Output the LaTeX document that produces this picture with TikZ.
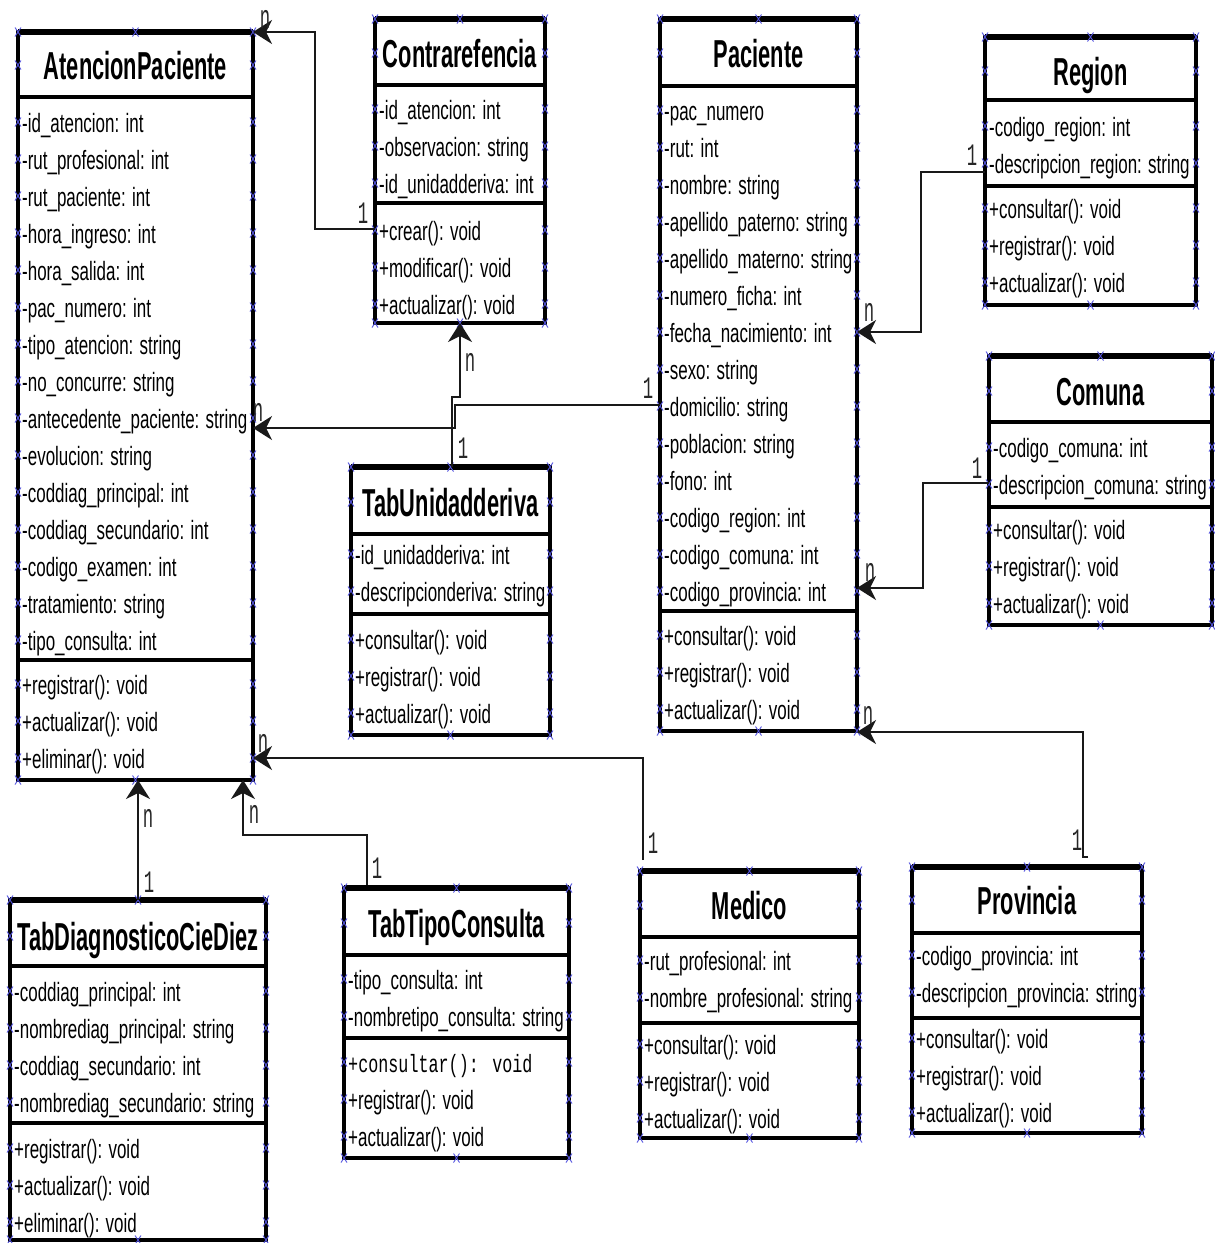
\documentclass[tikz,border=0pt]{standalone}
\usepackage{fontspec}
\setmainfont{Liberation Sans}
\newfontfamily\attrfont[FakeStretch=0.64]{Liberation Sans}
\newfontfamily\titlefont[FakeStretch=0.56]{Liberation Sans}
\newfontfamily\codefont[FakeStretch=0.67]{Liberation Mono}
\newfontfamily\multfont[FakeStretch=0.72]{Liberation Mono}
\usetikzlibrary{arrows.meta,calc}

\definecolor{markblue}{RGB}{85,85,225}

\tikzset{
  classbox/.style={draw, line width=3.5pt, inner sep=0pt, outer sep=0pt, fill=white},
  sepline/.style={line width=4pt},
  topline/.style={line width=5.5pt},
  titletext/.style={anchor=base, inner sep=0pt, font=\titlefont\bfseries\fontsize{39}{39}\selectfont},
  attrtext/.style={anchor=base west, inner sep=0pt, font=\attrfont\fontsize{26.5}{26.5}\selectfont},
  assoc/.style={draw=black!90, line width=2pt, -{Stealth[length=19pt,width=24pt,inset=6pt]}},
  mult/.style={inner sep=0pt, font=\multfont\fontsize{24}{24}\selectfont, text=black!85},
  markpen/.style={draw=markblue, line width=0.9pt},
  xmk/.pic={\draw[markpen] (-3,-4.5) -- (3,4.5) (-3,4.5) -- (3,-4.5);},
}

% frame of a class: name, left, top, right, first separator, second separator, bottom
\newcommand{\umlclass}[7]{%
  \node[classbox, anchor=north west, minimum width={#4-#2}, minimum height={#7-#3}] (#1) at (#2,#3) {};
  \draw[sepline] (#2,#5) -- (#4,#5);
  \draw[sepline] (#2,#6) -- (#4,#6);
  \draw[topline] (#2,#3) -- (#4,#3);
  \foreach \yy in {#3,#7} {
    \pic at (#2,\yy) {xmk};
    \pic at ({(#2+#4)/2},\yy) {xmk};
    \pic at (#4,\yy) {xmk};
  }
}
% class name: name, left, right, baseline, text
\newcommand{\umltitle}[5]{%
  \node[titletext] (#1) at ({(#2+#3)/2},#4) {#5};
  \pic at (#2,{#4-14}) {xmk};
  \pic at (#3,{#4-14}) {xmk};
}
% member rows: prefix, left, right, first baseline, list
\newcommand{\umlrows}[5]{%
  \foreach \txt [count=\i] in {#5} {
    \node[attrtext] (#1\i) at ({#2+4},{#4+37*(\i-1)}) {\txt};
    \pic at (#2,{#4+37*(\i-1)-10}) {xmk};
    \pic at (#3,{#4+37*(\i-1)-10}) {xmk};
  }
}

\begin{document}
\begin{tikzpicture}[x=1pt, y=-1pt]
\useasboundingbox (0,0) rectangle (1215,1243);
\fill[white] (0,0) rectangle (1215,1243);

% AtencionPaciente
\umlclass{ap}{18}{32}{253}{97}{660}{780}
\umltitle{ap-t}{18}{253}{79}{AtencionPaciente}
\umlrows{ap-a}{18}{253}{132}{-id\_atencion: int, -rut\_profesional: int, -rut\_paciente: int, -hora\_ingreso: int, -hora\_salida: int, -pac\_numero: int, -tipo\_atencion: string, -no\_concurre: string, -antecedente\_paciente: string, -evolucion: string, -coddiag\_principal: int, -coddiag\_secundario: int, -codigo\_examen: int, -tratamiento: string, -tipo\_consulta: int}
\umlrows{ap-m}{18}{253}{694}{+registrar(): void, +actualizar(): void, +eliminar(): void}

% Contrarefencia
\umlclass{cr}{375}{19}{545}{85}{203}{323}
\umltitle{cr-t}{375}{545}{67}{Contrarefencia}
\umlrows{cr-a}{375}{545}{119}{-id\_atencion: int, -observacion: string, -id\_unidadderiva: int}
\umlrows{cr-m}{375}{545}{240}{+crear(): void, +modificar(): void, +actualizar(): void}

% Paciente
\umlclass{pac}{660}{19}{857}{86}{611}{731}
\umltitle{pac-t}{660}{857}{67}{Paciente}
\umlrows{pac-a}{660}{857}{120}{-pac\_numero, -rut: int, -nombre: string, -apellido\_paterno: string, -apellido\_materno: string, -numero\_ficha: int, -fecha\_nacimiento: int, -sexo: string, -domicilio: string, -poblacion: string, -fono: int, -codigo\_region: int, -codigo\_comuna: int, -codigo\_provincia: int}
\umlrows{pac-m}{660}{857}{645}{+consultar(): void, +registrar(): void, +actualizar(): void}

% Region
\umlclass{reg}{985}{37}{1196}{100}{186}{305}
\umltitle{reg-t}{985}{1196}{85}{Region}
\umlrows{reg-a}{985}{1196}{136}{-codigo\_region: int, -descripcion\_region: string}
\umlrows{reg-m}{985}{1196}{218}{+consultar(): void, +registrar(): void, +actualizar(): void}

% Comuna
\umlclass{com}{989}{356}{1212}{422}{507}{625}
\umltitle{com-t}{989}{1212}{405}{Comuna}
\umlrows{com-a}{989}{1212}{457}{-codigo\_comuna: int, -descripcion\_comuna: string}
\umlrows{com-m}{989}{1212}{539}{+consultar(): void, +registrar(): void, +actualizar(): void}

% TabUnidadderiva
\umlclass{tud}{351}{467}{550}{534}{614}{735}
\umltitle{tud-t}{351}{550}{516}{TabUnidadderiva}
\umlrows{tud-a}{351}{550}{564}{-id\_unidadderiva: int, -descripcionderiva: string}
\umlrows{tud-m}{351}{550}{649}{+consultar(): void, +registrar(): void, +actualizar(): void}

% TabDiagnosticoCieDiez
\umlclass{tdg}{10}{900}{266}{966}{1123}{1240}
\umltitle{tdg-t}{10}{266}{950}{TabDiagnosticoCieDiez}
\umlrows{tdg-a}{10}{266}{1001}{-coddiag\_principal: int, -nombrediag\_principal: string, -coddiag\_secundario: int, -nombrediag\_secundario: string}
\umlrows{tdg-m}{10}{266}{1158}{+registrar(): void, +actualizar(): void, +eliminar(): void}

% TabTipoConsulta
\umlclass{ttc}{344}{888}{569}{955}{1038}{1158}
\umltitle{ttc-t}{344}{569}{937}{TabTipoConsulta}
\umlrows{ttc-a}{344}{569}{989}{-tipo\_consulta: int, -nombretipo\_consulta: string}
\umlrows{ttc-m}{344}{569}{1072}{{\codefont\fontsize{25}{25}\selectfont +consultar(): void}, +registrar(): void, +actualizar(): void}

% Medico
\umlclass{med}{640}{871}{859}{937}{1023}{1138}
\umltitle{med-t}{640}{859}{919}{Medico}
\umlrows{med-a}{640}{859}{970}{-rut\_profesional: int, -nombre\_profesional: string}
\umlrows{med-m}{640}{859}{1054}{+consultar(): void, +registrar(): void, +actualizar(): void}

% Provincia
\umlclass{pro}{912}{867}{1142}{933}{1018}{1133}
\umltitle{pro-t}{912}{1142}{914}{Provincia}
\umlrows{pro-a}{912}{1142}{965}{-codigo\_provincia: int, -descripcion\_provincia: string}
\umlrows{pro-m}{912}{1142}{1048}{+consultar(): void, +registrar(): void, +actualizar(): void}

% associations
\draw[assoc] ($(cr.north west)+(0,210)$) -- ++(-60,0) |- (ap.north east);
\draw[assoc] ($(pac.north west)+(0,386)$) -- ++(-205,0) -- ++(0,23) -- ($(ap.north east)+(0,396)$);
\draw[assoc] ($(tud.north)+(1.5,0)$) -- ++(0,-70) -| (cr.south);
\draw[assoc] ($(reg.north west)+(0,135)$) -- ++(-64,0) |- ($(pac.north east)+(0,313)$);
\draw[assoc] ($(com.north west)+(0,127)$) -- ++(-66,0) |- ($(pac.north east)+(0,569)$);
\draw[assoc] ($(pro.north west)+(176,-10)$) -- ++(-5,0) |- ($(pac.south east)+(0,1)$);
\draw[assoc] ($(med.north west)+(3,-11)$) |- ($(ap.north east)+(0,726)$);
\draw[assoc] (tdg.north) -- (tdg.north |- ap.south);
\draw[assoc] ($(ttc.north west)+(23,-3)$) -- ++(0,-50) -| ($(ap.south east)+(-10,0)$);

% multiplicities
\foreach \nm/\px/\py in {n1/265/19, n2/258/412, n3/470/362, n4/869/312, n5/870/572, n6/868/715, n7/263/743, n8/148/818, n9/254/814}
  \node[mult] (\nm) at (\px,\py) {\scalebox{1}[1.4]{n}};
\foreach \nm/\px/\py in {o1/363/213, o2/648/388, o3/463/448, o4/972/155, o5/977/468, o6/653/843, o7/1077/840, o8/149/882, o9/377/868}
  \node[mult] (\nm) at (\px,\py) {\scalebox{1}[1.3]{1}};
\end{tikzpicture}
\end{document}
